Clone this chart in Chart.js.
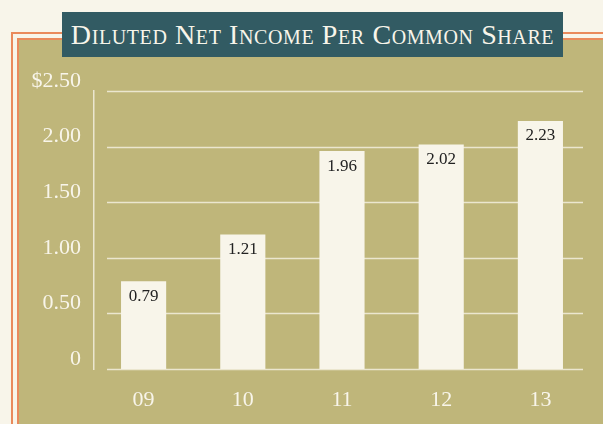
<!DOCTYPE html>
<html>
<head>
<meta charset="utf-8">
<script src="https://cdn.jsdelivr.net/npm/chart.js@4"></script>
<style>
  body { margin: 0; background: #f8f5ea; width: 603px; height: 424px; overflow: hidden; position: relative; }
  .rule { position: absolute; background: #ea8a5c; }
  #panel { position: absolute; left: 19px; top: 40px; right: 0; bottom: 0; background: #bfb67a; }
  #title {
    position: absolute; left: 62px; top: 12px; width: 501px; height: 45px;
    background: #325b63; color: #f8f5ea; text-align: center;
    font-family: "Liberation Serif", serif; font-size: 28px; font-variant: small-caps;
    line-height: 45px; letter-spacing: 0.6px; white-space: nowrap;
  }
  #chart { position: absolute; left: 0; top: 0; }
</style>
</head>
<body>
<div class="rule" style="left:11px;top:32px;right:0;height:2px"></div>
<div class="rule" style="left:11px;top:32px;width:2px;bottom:0"></div>
<div class="rule" style="left:17px;top:38px;right:0;height:2px"></div>
<div class="rule" style="left:17px;top:38px;width:2px;bottom:0"></div>
<div id="panel"></div>
<canvas id="chart" width="603" height="424"></canvas>
<div id="title">Diluted Net Income Per Common Share</div>
<script>
const years = ['09', '10', '11', '12', '13'];
const epsValues = [0.79, 1.21, 1.96, 2.02, 2.23];
const epsLabels = ['0.79', '1.21', '1.96', '2.02', '2.23'];
const yTickLabels = ['0', '0.50', '1.00', '1.50', '2.00', '$2.50'];

const cream = '#f8f5ea';
const serif = '"Liberation Serif", serif';

// horizontal rules drawn a bit inset from the plot edges, like the print version
const gridPlugin = {
  id: 'insetGrid',
  beforeDatasetsDraw(chart) {
    const { ctx, chartArea, scales: { y } } = chart;
    ctx.save();
    ctx.strokeStyle = '#ebe6cf';
    ctx.lineWidth = 1.5;
    y.ticks.forEach(t => {
      const py = Math.round(y.getPixelForValue(t.value)) + 0.5;
      ctx.beginPath();
      ctx.moveTo(chartArea.left + 13, py);
      ctx.lineTo(chartArea.right - 7, py);
      ctx.stroke();
    });
    ctx.restore();
  }
};

const valueLabels = {
  id: 'valueLabels',
  afterDatasetsDraw(chart) {
    const { ctx } = chart;
    const meta = chart.getDatasetMeta(0);
    ctx.save();
    ctx.fillStyle = '#222';
    ctx.font = '17px ' + serif;
    ctx.textAlign = 'center';
    ctx.textBaseline = 'middle';
    meta.data.forEach((bar, i) => {
      ctx.fillText(epsLabels[i], bar.x, bar.y + 15);
    });
    ctx.restore();
  }
};

new Chart(document.getElementById('chart'), {
  type: 'bar',
  data: {
    labels: years,
    datasets: [{
      data: epsValues,
      backgroundColor: cream,
      borderWidth: 0,
      barPercentage: 0.455,
      categoryPercentage: 1
    }]
  },
  options: {
    responsive: false,
    animation: false,
    layout: { padding: { top: 91, right: 13, bottom: 0, left: 0 } },
    plugins: { legend: { display: false }, tooltip: { enabled: false } },
    scales: {
      x: {
        grid: { display: false, drawTicks: false },
        border: { display: false },
        ticks: { color: cream, font: { family: serif, size: 22 }, padding: 18 },
        afterFit(scale) { scale.height = 55; }
      },
      y: {
        min: 0,
        max: 2.5,
        grid: { display: false, drawTicks: false, tickLength: 0 },
        border: { display: true, color: '#ebe6cf', width: 1.5 },
        ticks: {
          stepSize: 0.5,
          color: cream,
          font: { family: serif, size: 22 },
          padding: 13,
          labelOffset: -10,
          callback: (v, i) => yTickLabels[i]
        },
        afterFit(scale) { scale.width = 94; }
      }
    }
  },
  plugins: [gridPlugin, valueLabels]
});
</script>
</body>
</html>
